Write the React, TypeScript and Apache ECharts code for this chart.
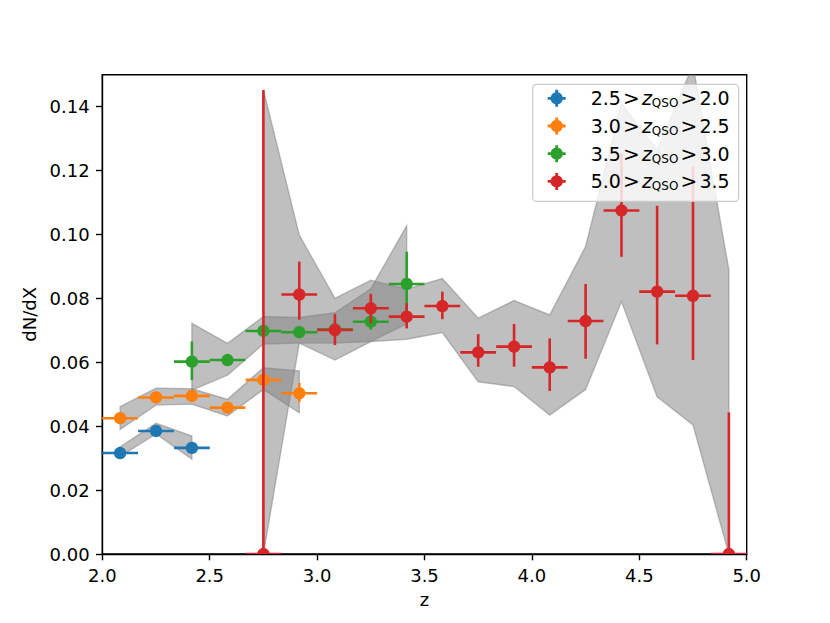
import React, { useEffect, useRef } from 'react';
import * as echarts from 'echarts';

// ---- axis ticks ----
const xTicks = [2.0, 2.5, 3.0, 3.5, 4.0, 4.5, 5.0];
const yTicks = [0, 0.02, 0.04, 0.06, 0.08, 0.1, 0.12, 0.14];

// half-width of each redshift bin (x error bar)
const zHalfWidth = 0.0833;

// ---- legend labels ----
const seriesNames = ['2.5 > zQSO > 2.0', '3.0 > zQSO > 2.5', '3.5 > zQSO > 3.0', '5.0 > zQSO > 3.5'];
const zqsoHigh = ['2.5', '3.0', '3.5', '5.0'];
const zqsoLow = ['2.0', '2.5', '3.0', '3.5'];
const colors = ['#1f77b4', '#ff7f0e', '#2ca02c', '#d62728'];

// ---- 2.5 > zQSO > 2.0 ----
const blueZ = [2.083, 2.25, 2.417];
const blueN = [0.0316, 0.0385, 0.0332];
const blueErrLow = [0.0308, 0.0377, 0.0324];
const blueErrHigh = [0.0324, 0.0393, 0.034];
const blueBandLow = [0.0305, 0.0376, 0.0297];
const blueBandHigh = [0.0335, 0.0409, 0.0369];

// ---- 3.0 > zQSO > 2.5 ----
const orangeZ = [2.083, 2.25, 2.417, 2.583, 2.75, 2.917];
const orangeN = [0.0425, 0.049, 0.0495, 0.0458, 0.0545, 0.0503];
const orangeErrLow = [0.0415, 0.048, 0.0485, 0.0448, 0.053, 0.0475];
const orangeErrHigh = [0.0435, 0.05, 0.0505, 0.0468, 0.056, 0.0535];
const orangeBandLow = [0.039, 0.0466, 0.0469, 0.0432, 0.0515, 0.0442];
const orangeBandHigh = [0.0461, 0.0519, 0.0517, 0.0484, 0.0583, 0.0573];

// ---- 3.5 > zQSO > 3.0 ----
const greenZ = [2.417, 2.583, 2.75, 2.917, 3.083, 3.25, 3.417];
const greenN = [0.0602, 0.0607, 0.0698, 0.0694, 0.0703, 0.0727, 0.0845];
const greenErrLow = [0.0544, 0.0589, 0.0688, 0.0684, 0.0688, 0.0702, 0.075];
const greenErrHigh = [0.0665, 0.0625, 0.0708, 0.0704, 0.0718, 0.0752, 0.0946];
const greenBandLow = [0.0513, 0.056, 0.0657, 0.066, 0.066, 0.0665, 0.072];
const greenBandHigh = [0.0722, 0.0659, 0.0743, 0.074, 0.0755, 0.083, 0.1027];

// ---- 5.0 > zQSO > 3.5 ----
const redZ = [2.75, 2.917, 3.083, 3.25, 3.417, 3.583, 3.75, 3.917, 4.083, 4.25, 4.417, 4.583, 4.75, 4.917];
const redN = [0, 0.0812, 0.0701, 0.0769, 0.0743, 0.0776, 0.0631, 0.0649, 0.0584, 0.0729, 0.1075, 0.0821, 0.0808, 0];
const redErrLow = [0, 0.0733, 0.0654, 0.0722, 0.0706, 0.0735, 0.0586, 0.0586, 0.051, 0.0611, 0.093, 0.0656, 0.0607, 0];
const redErrHigh = [0.1452, 0.0915, 0.0751, 0.0814, 0.0785, 0.0821, 0.0688, 0.072, 0.0675, 0.0845, 0.1254, 0.109, 0.1212, 0.0443];
const redBandLow = [0, 0.066, 0.0607, 0.0665, 0.0672, 0.0693, 0.0539, 0.0524, 0.0435, 0.0515, 0.079, 0.0492, 0.0404, 0];
const redBandHigh = [0.1452, 0.0998, 0.08, 0.0857, 0.0829, 0.0862, 0.0738, 0.0793, 0.0748, 0.0962, 0.141, 0.1265, 0.153, 0.0889];

const FONT = 'DejaVu Sans';

function bandSeries(z: number[], lo: number[], hi: number[]) {
  return {
    type: 'custom',
    silent: true,
    clip: true,
    z: 1,
    data: z.map((x, i) => [x, lo[i], hi[i]]),
    renderItem: (params: any, api: any) => {
      if (params.dataIndex !== 0) return null;
      const top = z.map((x, i) => api.coord([x, hi[i]]));
      const bottom = z.map((x, i) => api.coord([x, lo[i]])).reverse();
      return {
        type: 'polygon',
        shape: { points: [...top, ...bottom] },
        style: { fill: 'rgba(128,128,128,0.5)', stroke: 'rgba(128,128,128,0.5)', lineWidth: 1.4 },
      };
    },
  };
}

function pointSeries(name: string, color: string, z: number[], n: number[], lo: number[], hi: number[]) {
  return {
    type: 'custom',
    name,
    clip: true,
    z: 3,
    itemStyle: { color },
    data: z.map((x, i) => [x, n[i], lo[i], hi[i]]),
    renderItem: (params: any, api: any) => {
      const x = api.value(0);
      const y = api.value(1);
      const c = api.coord([x, y]);
      const l = api.coord([x - zHalfWidth, y]);
      const r = api.coord([x + zHalfWidth, y]);
      const b = api.coord([x, api.value(2)]);
      const t = api.coord([x, api.value(3)]);
      return {
        type: 'group',
        children: [
          { type: 'line', shape: { x1: l[0], y1: l[1], x2: r[0], y2: r[1] }, style: { stroke: color, lineWidth: 2.6 } },
          { type: 'line', shape: { x1: b[0], y1: b[1], x2: t[0], y2: t[1] }, style: { stroke: color, lineWidth: 2.6 } },
          { type: 'circle', shape: { cx: c[0], cy: c[1], r: 6.2 }, style: { fill: color } },
        ],
      };
    },
  };
}

const legendIcon =
  'path://M0,7.1 H18 V9.9 H0 Z M7.6,0 H10.4 V17 H7.6 Z M15.2,8.5 A6.2,6.2 0 1 1 2.8,8.5 A6.2,6.2 0 1 1 15.2,8.5 Z';

export default function App() {
  const ref = useRef<HTMLDivElement>(null);
  useEffect(() => {
    document.body.style.margin = '0';
    if (!ref.current) return;
    const chart = echarts.init(ref.current, undefined, { renderer: 'svg' });
    const axisCommon = {
      axisLine: { show: true, lineStyle: { color: '#000', width: 1.4 } },
      axisTick: { show: true, length: 6.3, lineStyle: { color: '#000', width: 1.4 } },
      splitLine: { show: false },
      nameTextStyle: { fontFamily: FONT, fontSize: 18, color: '#000' },
    };
    chart.setOption({
      animation: false,
      backgroundColor: '#fff',
      grid: {
        left: 102.3,
        top: 74.7,
        width: 644.4,
        height: 479.3,
        show: true,
        borderColor: '#000',
        borderWidth: 1.4,
        backgroundColor: 'transparent',
      },
      xAxis: {
        type: 'value',
        min: 2,
        max: 5,
        interval: 0.5,
        name: 'z',
        nameLocation: 'middle',
        nameGap: 36,
        ...axisCommon,
        axisTick: { ...axisCommon.axisTick, customValues: xTicks },
        axisLabel: {
          customValues: xTicks,
          margin: 12.6,
          fontFamily: FONT,
          fontSize: 18,
          color: '#000',
          formatter: (v: number) => v.toFixed(1),
        },
      },
      yAxis: {
        type: 'value',
        min: 0,
        max: 0.15,
        interval: 0.02,
        name: 'dN/dX',
        nameLocation: 'middle',
        nameGap: 58,
        nameRotate: 90,
        ...axisCommon,
        axisTick: { ...axisCommon.axisTick, customValues: yTicks },
        axisLabel: {
          customValues: yTicks,
          margin: 12.6,
          fontFamily: FONT,
          fontSize: 18,
          color: '#000',
          formatter: (v: number) => v.toFixed(2),
        },
      },
      legend: {
        orient: 'vertical',
        left: 532.7,
        top: 84.3,
        z: 10,
        padding: [4, 9, 9, 15],
        itemWidth: 18,
        itemHeight: 17,
        itemGap: 6.7,
        backgroundColor: 'rgba(255,255,255,0.8)',
        borderColor: '#cccccc',
        borderWidth: 1.2,
        borderRadius: 4,
        data: seriesNames.map((n) => ({ name: n, icon: legendIcon })),
        formatter: (name: string) => {
          const i = seriesNames.indexOf(name);
          return `{g| }{t|${zqsoHigh[i]}}{r|>}{i|z}{s|QSO}{r|>}{t|${zqsoLow[i]}}`;
        },
        textStyle: {
          rich: {
            g: { width: 20, fontSize: 19, lineHeight: 22 },
            t: { fontFamily: FONT, fontSize: 19, color: '#000', lineHeight: 22 },
            r: { fontFamily: FONT, fontSize: 20, color: '#000', lineHeight: 22, width: 21, align: 'center' },
            i: { fontFamily: FONT, fontSize: 19, fontStyle: 'italic', color: '#000', lineHeight: 22 },
            s: { fontFamily: FONT, fontSize: 12, color: '#000', lineHeight: 11, verticalAlign: 'bottom' },
          },
        },
      },
      series: [
        bandSeries(blueZ, blueBandLow, blueBandHigh),
        bandSeries(orangeZ, orangeBandLow, orangeBandHigh),
        bandSeries(greenZ, greenBandLow, greenBandHigh),
        bandSeries(redZ, redBandLow, redBandHigh),
        pointSeries(seriesNames[0], colors[0], blueZ, blueN, blueErrLow, blueErrHigh),
        pointSeries(seriesNames[1], colors[1], orangeZ, orangeN, orangeErrLow, orangeErrHigh),
        pointSeries(seriesNames[2], colors[2], greenZ, greenN, greenErrLow, greenErrHigh),
        pointSeries(seriesNames[3], colors[3], redZ, redN, redErrLow, redErrHigh),
      ],
    });
    return () => chart.dispose();
  }, []);
  return <div ref={ref} style={{ width: 830, height: 623 }} />;
}
